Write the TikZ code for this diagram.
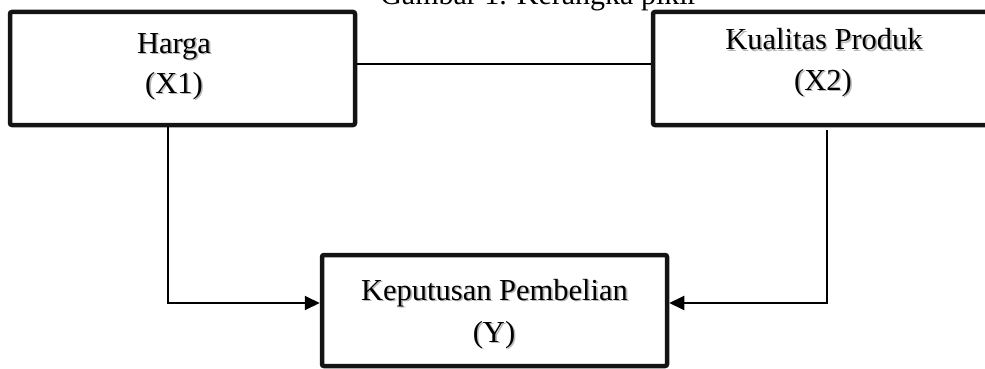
\documentclass[tikz,border=0pt]{standalone}
\usepackage{fontspec}
\setmainfont{Liberation Serif}
\usetikzlibrary{arrows.meta}

% text with a soft grey drop shadow
\newcommand\shadowtext[1]{\leavevmode\rlap{\hspace{1.6pt}\raisebox{-1.6pt}{\color{black!28}#1}}#1}

\tikzset{
  framebox/.style={draw=black!92, line width=4.5pt, rounded corners=2pt,
                   inner sep=0pt, fill=none},
  lbl/.style={anchor=base, inner sep=0pt, font=\fontsize{30.5}{36}\selectfont},
  conn/.style={draw=black, line width=2pt},
  arr/.style={conn, -{Triangle[length=15pt,width=14pt]}}
}

\begin{document}
\begin{tikzpicture}[x=1pt, y=-1pt]
  \clip (0,0) rectangle (985,369);
  \fill[white] (0,0) rectangle (985,369);

  % caption, cut at the top edge
  \node[anchor=base, inner sep=0pt, font=\fontsize{30}{36}\selectfont]
    (caption) at (539,4.5) {Gambar 1. Kerangka pikir};

  % boxes
  \node[framebox, minimum width=345pt, minimum height=113pt] (harga)     at (182.5,68.5) {};
  \node[framebox, minimum width=342pt, minimum height=113pt] (kualitas)  at (824,68.5) {};
  \node[framebox, minimum width=345pt, minimum height=111pt] (keputusan) at (494.5,310.5) {};

  % labels
  \node[lbl] (hargaA) at (174,53) {\shadowtext{Harga}};
  \node[lbl] (hargaB) at (174,93) {\shadowtext{(X1)}};
  \node[lbl] (kualA)  at (824,50) {\shadowtext{Kualitas Produk}};
  \node[lbl] (kualB)  at (823,90) {\shadowtext{(X2)}};
  \node[lbl] (kepA)   at (494.5,300) {\shadowtext{Keputusan Pembelian}};
  \node[lbl] (kepB)   at (494,342) {\shadowtext{(Y)}};

  % connectors
  \coordinate (mid) at (500,64);
  \coordinate (lbend) at (168,303);
  \coordinate (rbend) at (827,303);

  \draw[conn] (harga.east |- mid) -- (kualitas.west |- mid);
  \draw[arr] (harga.south -| lbend) -- (lbend) -- (keputusan.west |- lbend);
  \draw[arr] ([yshift=-3pt]kualitas.south -| rbend) -- (rbend) -- (keputusan.east |- rbend);
\end{tikzpicture}
\end{document}
